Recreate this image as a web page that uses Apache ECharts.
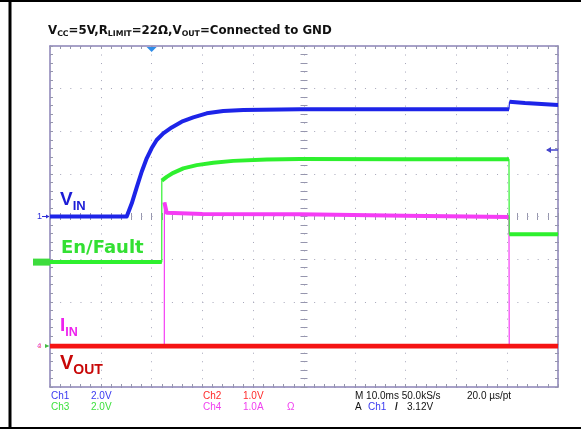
<!DOCTYPE html>
<html>
<head>
<meta charset="utf-8">
<script src="https://cdn.jsdelivr.net/npm/echarts@6/dist/echarts.min.js"></script>
<style>
  html, body { margin: 0; padding: 0; background: #ffffff; }
  #chart { width: 581px; height: 429px; }
</style>
</head>
<body>
<div id="chart"></div>
<script>
// ---- Time base: ms relative to the trigger, 10 ms/div, 10 divisions ----
const timeMin = -20;
const timeMax = 80;
const timeStep = 10;

// ---- Vertical screen: 8 divisions, centre = 0 ----
const divMin = -4;
const divMax = 4;

// ---- Channel settings (units per division, ground offset in divisions) ----
const ch1Scale = 2.0;   const ch1Ground = 0.0;    // V_IN       2.0 V/div
const ch2Scale = 1.0;   const ch2Ground = -3.04;  // V_OUT      1.0 V/div
const ch3Scale = 2.0;   const ch3Ground = -1.07;  // En/Fault   2.0 V/div
const ch4Scale = 1.0;   const ch4Ground = -3.04;  // I_IN       1.0 A/div
const triggerLevel = 3.12; // V on Ch1

// ---- Ch1: V_IN (V) ----
const vinTime  = [-20, -4.9, -3.9, -2.9, -1.95, -0.96, 0.0, 1.0, 2.3, 3.96, 5.93, 8.2, 10.85, 14.1, 18.05, 29.2, 50, 70.35, 70.45, 73.5, 80];
const vinVolts = [0, 0, 0.62, 1.39, 2.10, 2.73, 3.2, 3.59, 3.90, 4.18, 4.45, 4.65, 4.84, 4.95, 5.00, 5.03, 5.03, 5.03, 5.38, 5.32, 5.23];

// ---- Ch3: En/Fault (V) ----
const enTime  = [-20, 2.0, 2.01, 2.97, 4.27, 6.24, 8.88, 12.15, 16.08, 22.66, 29.2, 50, 70.35, 70.4, 80];
const enVolts = [0, 0, 3.82, 4.00, 4.19, 4.40, 4.55, 4.66, 4.75, 4.82, 4.84, 4.83, 4.83, 1.31, 1.31];

// ---- Ch4: I_IN (A) ----
const iinTime = [-20, 2.5, 2.52, 2.97, 10, 29.2, 50, 70.35, 70.4, 80];
const iinAmps = [0, 0, 3.37, 3.13, 3.10, 3.09, 3.06, 3.03, 0, 0];

// ---- Ch2: V_OUT (V), shorted to GND ----
const voutTime  = [-20, 30, 80];
const voutVolts = [0, 0, 0];

// ---- Colours ----
const frameColor = '#8a82b6';
const tickColor  = '#9696ae';
const dotColor   = '#a6a6ba';
const blueTrace  = '#1d24e8';
const greenTrace = '#2ef02e';
const pinkTrace  = '#f53cf5';
const redTrace   = '#f51414';

// Convert a channel's samples to screen divisions
function toDivs(times, values, scale, ground) {
  return times.map((t, i) => [t, values[i] / scale + ground]);
}
// Break the trace where it jumps vertically, so steep edges stay thin
function breakAtSteps(points) {
  const out = [];
  points.forEach((p, i) => {
    if (i > 0 && p[0] - points[i - 1][0] < 0.15) out.push([p[0], null]);
    out.push(p);
  });
  return out;
}
function traceSeries(name, points, color, z, band) {
  const common = {
    type: 'line', xAxisIndex: 0, yAxisIndex: 0, symbol: 'none',
    animation: false, silent: true, connectNulls: false, z: z
  };
  return [
    Object.assign({}, common, { name: name, data: points, lineStyle: { color: color, width: 1.2 } }),
    Object.assign({}, common, { name: name + ' band', data: breakAtSteps(points), lineStyle: { color: color, width: band, join: 'round' } })
  ];
}

function timeAxis(opts) {
  return {
    type: 'value', min: timeMin, max: timeMax, interval: timeStep,
    position: opts.position, offset: opts.offset || 0,
    axisLabel: { show: false },
    axisLine: { show: opts.line, onZero: false, lineStyle: { color: frameColor, width: 1.5 } },
    axisTick: { show: true, inside: opts.inside, length: opts.len, lineStyle: { color: tickColor, width: 1 } },
    minorTick: { show: true, splitNumber: 5, length: opts.len, lineStyle: { color: tickColor, width: 1 } },
    splitLine: opts.split
      ? { show: true, lineStyle: { color: dotColor, width: 1, type: [1, 7.52] } }
      : { show: false },
    minorSplitLine: { show: false }
  };
}
function divAxis(opts) {
  return {
    type: 'value', min: divMin, max: divMax, interval: 1,
    position: opts.position, offset: opts.offset || 0,
    axisLabel: { show: false },
    axisLine: { show: opts.line, onZero: false, lineStyle: { color: frameColor, width: 1.5 } },
    axisTick: { show: true, inside: opts.inside, length: opts.len, lineStyle: { color: tickColor, width: 1 } },
    minorTick: { show: true, splitNumber: 5, length: opts.len, lineStyle: { color: tickColor, width: 1 } },
    splitLine: opts.split
      ? { show: true, lineStyle: { color: dotColor, width: 1, type: [1, 9.16] } }
      : { show: false },
    minorSplitLine: { show: false }
  };
}

const chart = echarts.init(document.getElementById('chart'), null, { renderer: 'canvas' });

const halfW = 254, halfH = 170.5;
const option = {
  backgroundColor: '#ffffff',
  animation: false,
  grid: { left: 50, top: 46, width: 508, height: 341, containLabel: false },
  xAxis: [
    timeAxis({ position: 'bottom', line: true, inside: true, len: 3, split: true }),
    timeAxis({ position: 'top', line: true, inside: true, len: 3, split: false }),
    timeAxis({ position: 'bottom', offset: -halfH, line: false, inside: true, len: 3.5, split: false }),
    timeAxis({ position: 'bottom', offset: -halfH, line: false, inside: false, len: 3.5, split: false })
  ],
  yAxis: [
    divAxis({ position: 'left', line: true, inside: true, len: 3, split: true }),
    divAxis({ position: 'right', line: true, inside: true, len: 3, split: false }),
    divAxis({ position: 'left', offset: -halfW, line: false, inside: true, len: 3.5, split: false }),
    divAxis({ position: 'left', offset: -halfW, line: false, inside: false, len: 3.5, split: false })
  ],
  series: [].concat(
    traceSeries('I_IN', toDivs(iinTime, iinAmps, ch4Scale, ch4Ground), pinkTrace, 2, 4),
    traceSeries('En/Fault', toDivs(enTime, enVolts, ch3Scale, ch3Ground), greenTrace, 3, 4),
    traceSeries('V_IN', toDivs(vinTime, vinVolts, ch1Scale, ch1Ground), blueTrace, 4, 4),
    traceSeries('V_OUT', toDivs(voutTime, voutVolts, ch2Scale, ch2Ground), redTrace, 5, 4.6)
  )
};
chart.setOption(option);

// ---- Text and markers ----
const measureCtx = document.createElement('canvas').getContext('2d');
function textWidth(str, font) { measureCtx.font = font; return measureCtx.measureText(str).width; }

// A label made of runs of text with their own size and vertical centre (for subscripts)
function runLabel(x, runs, family, color, weight) {
  const els = [];
  let cx = x;
  runs.forEach(r => {
    const font = (weight || 'bold') + ' ' + r[1] + 'px ' + family;
    els.push({
      type: 'text', x: cx, y: r[2], silent: true, z: 20,
      style: { text: r[0], font: font, fill: color, align: 'left', verticalAlign: 'middle' }
    });
    cx += textWidth(r[0], font);
  });
  return els;
}
function plainText(x, y, str, color, size, family, weight) {
  return {
    type: 'text', x: x, y: y, silent: true, z: 20,
    style: { text: str, font: (weight || 'normal') + ' ' + size + 'px ' + family, fill: color, align: 'left', verticalAlign: 'middle' }
  };
}

const px = (t, d) => chart.convertToPixel({ gridIndex: 0 }, [t, d]);
const arial = "'Liberation Sans', Arial, sans-serif";
const wide = "'DejaVu Sans', Verdana, sans-serif";
const g = [];

// Frame
g.push({ type: 'line', silent: true, z: 30, shape: { x1: 0, y1: 1, x2: 581, y2: 1 }, style: { stroke: '#000', lineWidth: 2 } });
g.push({ type: 'line', silent: true, z: 30, shape: { x1: 10, y1: 0, x2: 10, y2: 429 }, style: { stroke: '#000', lineWidth: 3 } });
g.push({ type: 'line', silent: true, z: 30, shape: { x1: 0, y1: 428, x2: 581, y2: 428 }, style: { stroke: '#000', lineWidth: 2 } });

// Title
g.push(...runLabel(48, [
  ['V', 11.8, 31], ['CC', 7.8, 34], ['=5V,R', 11.8, 31], ['LIMIT', 7.8, 34],
  ['=22\u03A9,V', 11.8, 31], ['OUT', 7.8, 34], ['=Connected to GND', 11.8, 31]
], wide, '#111111'));

// Trace names
g.push(...runLabel(60, [['V', 19, 199.7], ['IN', 13, 206.8]], arial, '#1c1cd6'));
g.push(...runLabel(61, [['En/Fault', 18, 248.5]], wide, '#33e033'));
g.push(...runLabel(60, [['I', 19, 325.7], ['IN', 12.5, 332.8]], arial, '#ee22ee'));
g.push(...runLabel(60, [['V', 20, 363.8], ['OUT', 14, 370.3]], arial, '#c80808'));

// Ground markers at the left edge
const y1 = px(timeMin, ch1Ground)[1];
const y3 = px(timeMin, ch3Ground)[1];
const y2 = px(timeMin, ch2Ground)[1];
g.push(plainText(37, y1, '1', '#3030d8', 9, arial));
g.push({ type: 'polyline', silent: true, z: 21, shape: { points: [[42, y1], [49, y1]] }, style: { stroke: '#3030d8', lineWidth: 1 } });
g.push({ type: 'polygon', silent: true, z: 21, shape: { points: [[46, y1 - 2], [49.5, y1], [46, y1 + 2]] }, style: { fill: '#3030d8' } });
g.push({ type: 'rect', silent: true, z: 21, shape: { x: 33, y: y3 - 3.5, width: 17, height: 7 }, style: { fill: '#3ddc3d' } });
g.push(plainText(35, y3, '3', '#1f8f1f', 7, arial, 'bold'));
g.push(plainText(37, y2, '4', '#ee55ee', 8, arial));
g.push(plainText(38, y2 + 0.5, '2', '#f06a6a', 6, arial));
g.push({ type: 'polygon', silent: true, z: 21, shape: { points: [[45, y2 - 2], [49.5, y2], [45, y2 + 2]] }, style: { fill: '#44bb44' } });

// Trigger position marker (top) and trigger level marker (right)
const trig = px(0, divMax);
g.push({ type: 'polygon', silent: true, z: 22, shape: { points: [[trig[0] - 5, trig[1] + 1], [trig[0] + 5, trig[1] + 1], [trig[0], trig[1] + 6]] }, style: { fill: '#2e8ce8' } });
const lvl = px(timeMax, triggerLevel / ch1Scale + ch1Ground);
g.push({ type: 'polyline', silent: true, z: 22, shape: { points: [[lvl[0] - 11, lvl[1]], [lvl[0], lvl[1]]] }, style: { stroke: '#4646cc', lineWidth: 1.5 } });
g.push({ type: 'polygon', silent: true, z: 22, shape: { points: [[lvl[0] - 12, lvl[1]], [lvl[0] - 7, lvl[1] - 3], [lvl[0] - 7, lvl[1] + 3]] }, style: { fill: '#4646cc' } });

// Readout
const r1 = 396.5, r2 = 407;
g.push(plainText(51, r1, 'Ch1', '#3a3af0', 10, arial));
g.push(plainText(91, r1, '2.0V', '#3a3af0', 10, arial));
g.push(plainText(51, r2, 'Ch3', '#3ee03e', 10, arial));
g.push(plainText(91, r2, '2.0V', '#3ee03e', 10, arial));
g.push(plainText(203, r1, 'Ch2', '#ff2a2a', 10, arial));
g.push(plainText(243, r1, '1.0V', '#ff2a2a', 10, arial));
g.push(plainText(203, r2, 'Ch4', '#f040f0', 10, arial));
g.push(plainText(243, r2, '1.0A', '#f040f0', 10, arial));
g.push(plainText(287, r2, '\u03A9', '#f040f0', 10, arial));
g.push(plainText(355, r1, 'M 10.0ms 50.0kS/s', '#111111', 10, arial));
g.push(plainText(467, r1, '20.0 \u00B5s/pt', '#111111', 10, arial));
g.push(plainText(355, r2, 'A', '#111111', 10, arial));
g.push(plainText(368, r2, 'Ch1', '#3a3af0', 10, arial));
g.push(plainText(395, r2, '/', '#111111', 10, arial, 'bold'));
g.push(plainText(407, r2, '3.12V', '#111111', 10, arial));

chart.setOption({ graphic: g });
</script>
</body>
</html>
